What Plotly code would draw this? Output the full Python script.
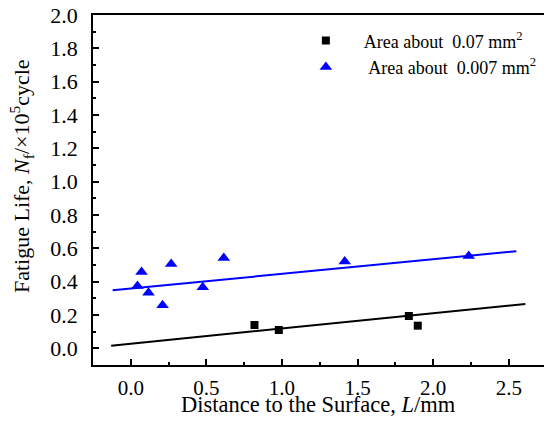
import plotly.graph_objects as go

# Data
sq_x = [0.818, 0.979, 1.839, 1.898]
sq_y = [0.140, 0.110, 0.194, 0.136]

tri_x = [0.044, 0.071, 0.117, 0.210, 0.267, 0.476, 0.615, 1.415, 2.235]
tri_y = [0.374, 0.458, 0.334, 0.258, 0.506, 0.366, 0.542, 0.521, 0.554]

fit_black_x = [-0.13, 2.61]
fit_black_y = [0.016, 0.266]
fit_blue_x = [-0.12, 2.55]
fit_blue_y = [0.348, 0.583]

x_ticks = [0.0, 0.5, 1.0, 1.5, 2.0, 2.5]
y_ticks = [0.0, 0.2, 0.4, 0.6, 0.8, 1.0, 1.2, 1.4, 1.6, 1.8, 2.0]

x_title = "Distance to the Surface, <i>L</i>/mm"
y_title = "Fatigue Life, <i>N</i><sub>f</sub>/×10<sup>5</sup>cycle"

FONT = "Liberation Serif, Times New Roman, serif"
NB = "\u00a0"

fig = go.Figure()
fig.add_trace(go.Scatter(x=fit_black_x, y=fit_black_y, mode="lines",
                         line=dict(color="black", width=2), showlegend=False))
fig.add_trace(go.Scatter(x=fit_blue_x, y=fit_blue_y, mode="lines",
                         line=dict(color="#0000ff", width=2), showlegend=False))
fig.add_trace(go.Scatter(x=sq_x, y=sq_y, mode="markers",
                         marker=dict(symbol="square", size=8, color="black"),
                         name=NB * 4 + "Area about" + NB * 2 + "0.07 mm<sup>2</sup>"))
fig.add_trace(go.Scatter(x=tri_x, y=tri_y, mode="markers",
                         marker=dict(symbol="triangle-up", size=11, color="#0000ff"),
                         name=NB * 5 + "Area about" + NB * 2 + "0.007 mm<sup>2</sup>"))

axis_common = dict(
    showline=True, linecolor="black", linewidth=1.5,
    ticks="inside", ticklen=6, tickwidth=1.5, tickcolor="black",
    showgrid=False, zeroline=False, automargin=False,
)

fig.update_xaxes(
    range=[-0.25, 2.733], tickvals=x_ticks,
    ticktext=[f"{v:.1f}" for v in x_ticks], mirror=True,
    ticklabelstandoff=3,
    tickfont=dict(family=FONT, size=21, color="black"),
    minor=dict(dtick=0.25, tick0=0, ticks="inside", ticklen=3, tickwidth=1.5, tickcolor="black"),
    **axis_common,
)
fig.update_yaxes(
    range=[-0.1, 2.0], tickvals=y_ticks,
    ticktext=[f"{v:.1f}" for v in y_ticks], mirror=False,
    ticklabelstandoff=9,
    tickfont=dict(family=FONT, size=22, color="black"),
    minor=dict(dtick=0.1, tick0=0, ticks="inside", ticklen=3, tickwidth=1.5, tickcolor="black"),
    **axis_common,
)

fig.add_annotation(text=x_title, xref="paper", yref="paper", x=0.5, y=-0.113,
                   xanchor="center", yanchor="middle", showarrow=False,
                   font=dict(family=FONT, size=22.5, color="black"))
fig.add_annotation(text=y_title, xref="paper", yref="paper", x=-0.1596, y=0.54,
                   xanchor="center", yanchor="middle", showarrow=False, textangle=-90,
                   font=dict(family=FONT, size=22, color="black"))

fig.update_layout(
    width=544, height=427,
    margin=dict(l=93, r=0, t=15, b=62),
    plot_bgcolor="white", paper_bgcolor="white",
    font=dict(family=FONT, color="black"),
    legend=dict(x=0.472, y=0.979, xanchor="left", yanchor="top",
                bgcolor="rgba(0,0,0,0)", font=dict(family=FONT, size=18, color="black"),
                tracegroupgap=0),
)

fig.write_html(
    "out.html",
    config={"displayModeBar": False},
    post_script="document.body.style.margin='0';document.body.style.overflow='hidden';",
)
